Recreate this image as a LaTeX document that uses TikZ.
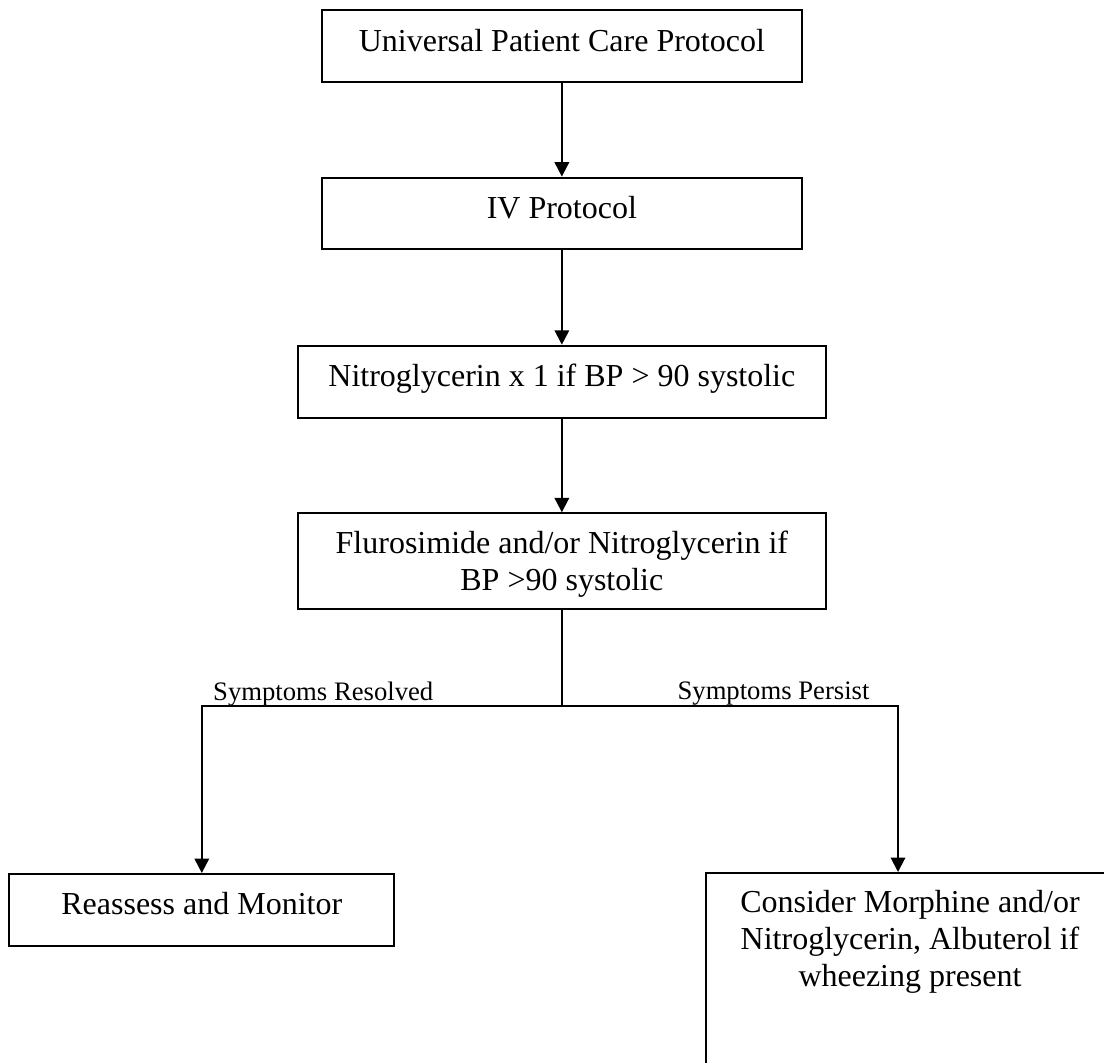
\documentclass[tikz,border=0pt]{standalone}
\usepackage{fontspec}
\setmainfont{Liberation Serif}
\usetikzlibrary{arrows.meta}
\begin{document}
\begin{tikzpicture}[x=0.375pt,y=-0.375pt,
  flowbox/.style={draw=black,line width=0.75pt,rectangle,inner sep=0pt},
  boxtext/.style={font=\fontsize{12pt}{13.7pt}\selectfont,anchor=base,inner sep=0pt},
  multitext/.style={boxtext,align=center},
  branchtext/.style={font=\fontsize{10pt}{12pt}\selectfont,inner sep=0pt},
  flow/.style={line width=0.75pt,-{Triangle[width=5.4pt,length=5.4pt]}},
  plainline/.style={line width=0.75pt}]
\useasboundingbox (0,0) rectangle (1104,1062);
\clip (0,0) rectangle (1104,1062);

% boxes
\node[flowbox,minimum width=180.1pt,minimum height=26.9pt] (b1) at (561.85,45.85) {};
\node[flowbox,minimum width=180.1pt,minimum height=26.8pt] (b2) at (561.85,213.35) {};
\node[flowbox,minimum width=198.1pt,minimum height=27pt]   (b3) at (561.85,381.7) {};
\node[flowbox,minimum width=198.1pt,minimum height=36pt]   (b4) at (561.85,561.3) {};
\node[flowbox,minimum width=144.4pt,minimum height=26.9pt] (b5) at (201.8,909.85) {};
\node[flowbox,minimum width=153.2pt,minimum height=150pt]  (b6) at (910,1073) {};

% box texts (anchored on the baseline of the last line)
\node[boxtext] (t1) at (561.85,51.7) {Universal Patient Care Protocol};
\node[boxtext] (t2) at (561.85,218.3) {IV Protocol};
\node[boxtext] (t3) at (561.85,386.7) {Nitroglycerin x 1 if BP > 90 systolic};
\node[multitext] (t4) at (561.85,590) {Flurosimide and/or Nitroglycerin if\\BP >90 systolic};
\node[boxtext] (t5) at (201.8,914.3) {Reassess and Monitor};
\node[multitext] (t6) at (910,986) {Consider Morphine and/or\\Nitroglycerin, Albuterol if\\wheezing present};

% main sequence
\draw[flow] (b1) -- (b2);
\draw[flow] (b2) -- (b3);
\draw[flow] (b3) -- (b4);

% branching
\coordinate (level) at (0,706);
\coordinate (split) at (b4.south |- level);
\coordinate (rightdrop) at (898,0);
\draw[plainline] (b4.south) -- (split);
\draw[flow] (split) -| (b5.north);
\draw[flow] (split) -| (rightdrop |- b6.north);

% branch labels
\node[branchtext,anchor=base west] (resolved) at (212.7,700) {Symptoms Resolved};
\node[branchtext,anchor=base east] (persist) at (870,699) {Symptoms Persist};
\end{tikzpicture}
\end{document}
